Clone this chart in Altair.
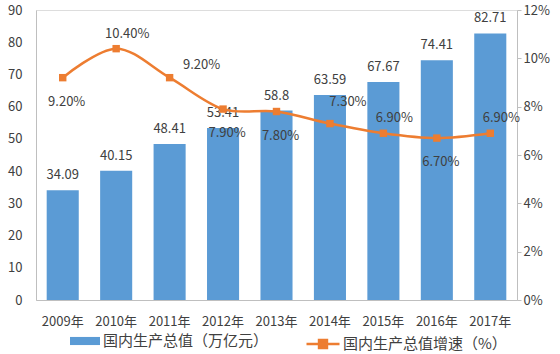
import altair as alt
import pandas as pd

years = ["2009年", "2010年", "2011年", "2012年", "2013年", "2014年", "2015年", "2016年", "2017年"]
gdp = [34.09, 40.15, 48.41, 53.41, 58.8, 63.59, 67.67, 74.41, 82.71]
growth = [9.2, 10.4, 9.2, 7.9, 7.8, 7.3, 6.9, 6.7, 6.9]
growth_label_place = ["below", "above", "right", "below", "below", "upright", "above", "below", "above"]

bar_name = "国内生产总值（万亿元）"
line_name = "国内生产总值增速（%）"

df = pd.DataFrame({
    "year": years,
    "gdp": gdp,
    "growth": growth,
    "place": growth_label_place,
})
df["gdp_label"] = [f"{v:g}" for v in gdp]
df["growth_label"] = [f"{v:.2f}%" for v in growth]

BLUE = "#5B9BD5"
ORANGE = "#ED7D31"
TXT = "#404040"
FONT = "Noto Sans CJK SC"
AXIS_GRAY = "#BFBFBF"

base = alt.Chart(df)
xenc = alt.X("year:N", sort=years, title=None,
             scale=alt.Scale(paddingInner=0.4, paddingOuter=0.2),
             axis=alt.Axis(labelAngle=0, labelFontSize=13, labelColor=TXT, labelFont=FONT,
                           domainColor=AXIS_GRAY, ticks=False, labelPadding=15))

yl = alt.Y("gdp:Q", title=None,
           scale=alt.Scale(domain=[0, 90]),
           axis=alt.Axis(values=list(range(0, 91, 10)), grid=False, ticks=False,
                         labelOverlap=False, tickCount=10,
                         labelPadding=14, labelFontSize=13, labelColor=TXT, labelFont=FONT,
                         domainColor=AXIS_GRAY))

yr = alt.Y("growth:Q", title=None,
           scale=alt.Scale(domain=[0, 12]),
           axis=alt.Axis(orient="right", values=list(range(0, 13, 2)), grid=False,
                         labelOverlap=False,
                         labelExpr="datum.value + '%'", tickSize=4, tickColor=AXIS_GRAY,
                         labelPadding=2, labelFontSize=13, labelColor=TXT, labelFont=FONT,
                         domainColor=AXIS_GRAY))

bars = base.mark_bar().encode(
    x=xenc,
    y=yl,
    color=alt.Color("bn:N", scale=alt.Scale(domain=[bar_name], range=[BLUE]),
                    legend=alt.Legend(title=None, orient="none", legendX=34, legendY=316,
                                      symbolType="M-1,-0.27H1V0.27H-1Z", symbolSize=900,
                                      symbolStrokeWidth=0, labelLimit=400,
                                      labelFontSize=15, labelColor=TXT, labelFont=FONT,
                                      labelOffset=3)),
).transform_calculate(bn=f"'{bar_name}'")

bar_text = base.mark_text(baseline="middle", dy=-15, fontSize=13, color=TXT, font=FONT).encode(
    x=xenc,
    y=yl,
    text="gdp_label:N",
)

left = alt.layer(bars, bar_text)

line = base.mark_line(interpolate="cardinal", strokeWidth=2.5).encode(
    x=xenc,
    y=yr,
    color=alt.Color("ln:N", scale=alt.Scale(domain=[line_name], range=[ORANGE]),
                    legend=alt.Legend(title=None, orient="none", legendX=269, legendY=316,
                                      symbolType="M-1,0H1M-0.24,-0.24H0.24V0.24H-0.24Z",
                                      symbolSize=1089, symbolStrokeWidth=2.5,
                                      symbolFillColor=ORANGE, labelLimit=400,
                                      labelFontSize=15, labelColor=TXT, labelFont=FONT,
                                      labelOffset=2)),
).transform_calculate(ln=f"'{line_name}'")

points = base.mark_point(shape="square", filled=True, size=55, color=ORANGE, opacity=1).encode(
    x=xenc,
    y=yr,
)

offsets = {"below": (4, 24), "above": (11, -15), "right": (32, -13), "upright": (18, -22)}
line_texts = []
for place, (dx, dy) in offsets.items():
    line_texts.append(
        base.transform_filter(alt.datum.place == place)
        .mark_text(baseline="middle", dx=dx, dy=dy, fontSize=13, color=TXT, font=FONT)
        .encode(x=xenc, y=yr, text="growth_label:N")
    )

right = alt.layer(line, points, *line_texts)

chart = alt.layer(left, right).resolve_scale(y="independent", color="independent").properties(
    width=481, height=290,
    autosize=alt.AutoSizeParams(type="none"),
    padding={"left": 36, "top": 10, "right": 43, "bottom": 54},
).configure_view(stroke=None).configure(background="white")

chart.save("out.html", embed_options={"renderer": "svg", "actions": False})
